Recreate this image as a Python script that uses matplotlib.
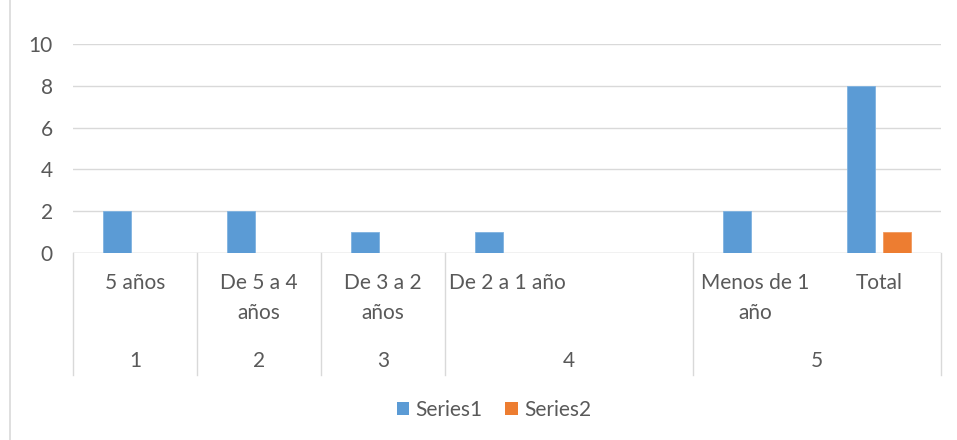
import matplotlib
matplotlib.use("Agg")
import matplotlib.pyplot as plt
from matplotlib.lines import Line2D
from matplotlib.patches import Patch
import numpy as np

sub_labels = ["5 años", "De 5 a 4\naños", "De 3 a 2\naños", "De 2 a 1 año", "", "Menos de 1\naño", "Total"]
group_labels = ["1", "2", "3", "4", "5"]
group_spans = [1, 1, 1, 2, 2]
series1 = [2, 2, 1, 1, np.nan, 2, 8]
series2 = [np.nan, np.nan, np.nan, np.nan, np.nan, np.nan, 1]
series_names = ["Series1", "Series2"]
yticks = [0, 2, 4, 6, 8, 10]

plt.rcParams['font.family'] = ['Lato', 'DejaVu Sans']
txt = "#595959"
grid = "#d9d9d9"
fs = 15

W, H = 957, 440
fig = plt.figure(figsize=(W/100, H/100), dpi=100)
L, R, B, T = 73, 941, 253, 44
ax = fig.add_axes([L/W, 1-B/H, (R-L)/W, (B-T)/H])

x = np.arange(len(sub_labels))
bw = 0.22
off = 0.145
ax.bar(x - off, series1, bw, color="#5B9BD5", edgecolor="#7FB2E0", linewidth=0.6, label=series_names[0])
ax.bar(x + off, series2, bw, color="#ED7D31", edgecolor="#F19A5E", linewidth=0.6, label=series_names[1])

ax.set_xlim(-0.5, len(sub_labels) - 0.5)
ax.set_ylim(0, 10)
ax.set_yticks(yticks)
ax.set_yticklabels([str(v) for v in yticks])
ax.tick_params(axis='y', length=0, pad=14.5, labelsize=fs, labelcolor=txt)
ax.tick_params(axis='x', length=0, labelbottom=False)
ax.set_xticks([])
for s in ax.spines.values():
    s.set_visible(False)
ax.yaxis.grid(True, color=grid, linewidth=1.0)
ax.set_axisbelow(True)
ax.axhline(0, color=grid, linewidth=1.0, zorder=0.5)

tr = ax.get_xaxis_transform()
px = B - T
def ay(ypix):
    return (B - ypix) / px

# sub labels
for xi, lab in zip(x, sub_labels):
    ax.text(xi, ay(273), lab, transform=tr, ha='center', va='top', fontsize=fs,
            color=txt, linespacing=1.62)

# group labels and dividers
edges = [-0.5]
for sp in group_spans:
    edges.append(edges[-1] + sp)
for i, g in enumerate(group_labels):
    c = (edges[i] + edges[i+1]) / 2
    ax.text(c, ay(361), g, transform=tr, ha='center', va='center', fontsize=fs, color=txt)
for e in edges:
    ax.add_line(Line2D([e, e], [0, ay(375)], transform=tr, color=grid, linewidth=1.0, clip_on=False))

# outer frame left edge
fig.add_artist(Line2D([10/W, 10/W], [0, 1], transform=fig.transFigure, color=grid, linewidth=1.2))

handles = [Patch(facecolor="#5B9BD5"), Patch(facecolor="#ED7D31")]
fig.legend(handles, series_names, loc='center', bbox_to_anchor=(494/W, 1-410/H), ncol=2,
           frameon=False, fontsize=fs, labelcolor=txt, handlelength=0.6, handleheight=0.6,
           handletextpad=0.3, columnspacing=1.1)

fig.savefig("out.png", dpi=100)
